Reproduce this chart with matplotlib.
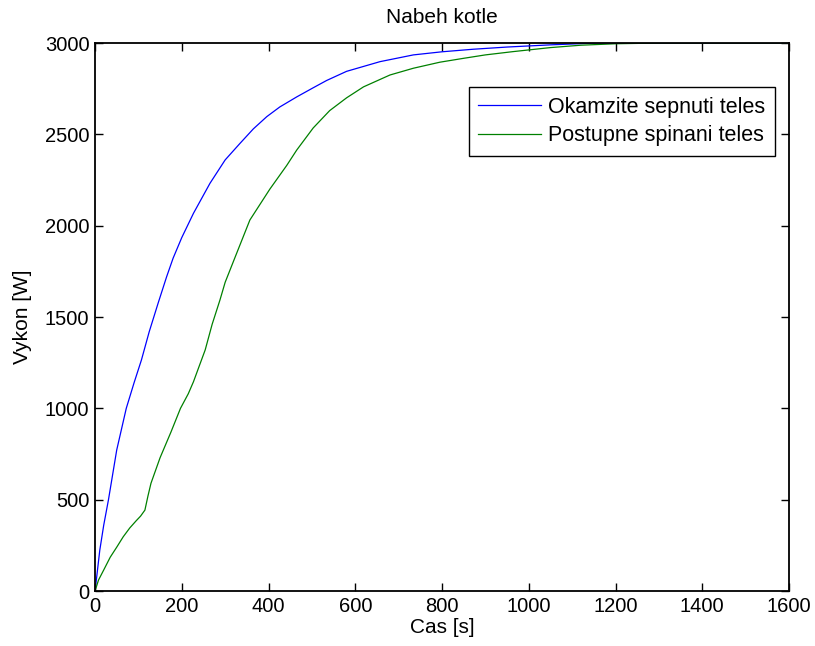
import matplotlib
matplotlib.use('Agg')
import matplotlib.pyplot as plt

plt.rcParams['font.family'] = ['Liberation Sans', 'DejaVu Sans']

# okamzite sepnuti teles (blue)
t_okam = [0, 3, 11, 20, 31, 50, 72, 90, 107, 125, 146, 165, 180, 200, 227,
          265, 300, 334, 365, 396, 426, 465, 503, 534, 580, 657, 734, 800,
          872, 950, 1050, 1157, 1600]
p_okam = [0, 60, 224, 360, 500, 772, 1000, 1140, 1265, 1420, 1580, 1720,
          1822, 1935, 2068, 2232, 2360, 2450, 2530, 2597, 2650, 2705, 2755,
          2795, 2845, 2898, 2935, 2952, 2966, 2978, 2990, 3000, 3000]

# postupne spinani teles (green)
t_post = [0, 8, 20, 35, 50, 65, 80, 95, 105, 115, 122, 129, 150, 175, 197,
          215, 227, 240, 254, 270, 288, 300, 322, 357, 403, 442, 465, 503,
          541, 580, 619, 680, 734, 795, 849, 900, 964, 1050, 1120, 1200,
          1303, 1600]
p_post = [0, 60, 115, 185, 240, 297, 345, 385, 410, 443, 520, 590, 730, 870,
          1000, 1080, 1146, 1230, 1320, 1460, 1593, 1690, 1822, 2031, 2200,
          2330, 2414, 2535, 2630, 2700, 2760, 2825, 2862, 2895, 2916, 2935,
          2953, 2975, 2988, 2996, 3000, 3000]

fig = plt.figure(figsize=(8.15, 6.46), dpi=100)
ax = fig.add_axes([0.1166, 0.0851, 0.8515, 0.8483])

ax.plot(t_okam, p_okam, color=(0, 0, 1), lw=0.9, label='Okamzite sepnuti teles')
ax.plot(t_post, p_post, color=(0, 0.5, 0), lw=0.9, label='Postupne spinani teles')

ax.set_xlim(0, 1600)
ax.set_ylim(0, 3000)
ax.set_xticks(range(0, 1601, 200))
ax.set_yticks(range(0, 3001, 500))
ax.tick_params(direction='in', top=True, right=True, length=6, width=1,
               labelsize=14.5, pad=4)
for s in ax.spines.values():
    s.set_linewidth(1.3)

ax.set_title('Nabeh kotle', fontsize=15, pad=14.5)
ax.set_xlabel('Cas [s]', fontsize=15, labelpad=2)
ax.set_ylabel('Vykon [W]', fontsize=15, labelpad=9)

leg = ax.legend(loc='upper right', bbox_to_anchor=(0.980, 0.920),
                borderaxespad=0, fontsize=15.5, handlelength=2.9,
                handletextpad=0.35, labelspacing=0.35, fancybox=False,
                framealpha=1, edgecolor='black', borderpad=0.45)
leg.get_frame().set_linewidth(1.0)

fig.savefig('out.png', dpi=100)
